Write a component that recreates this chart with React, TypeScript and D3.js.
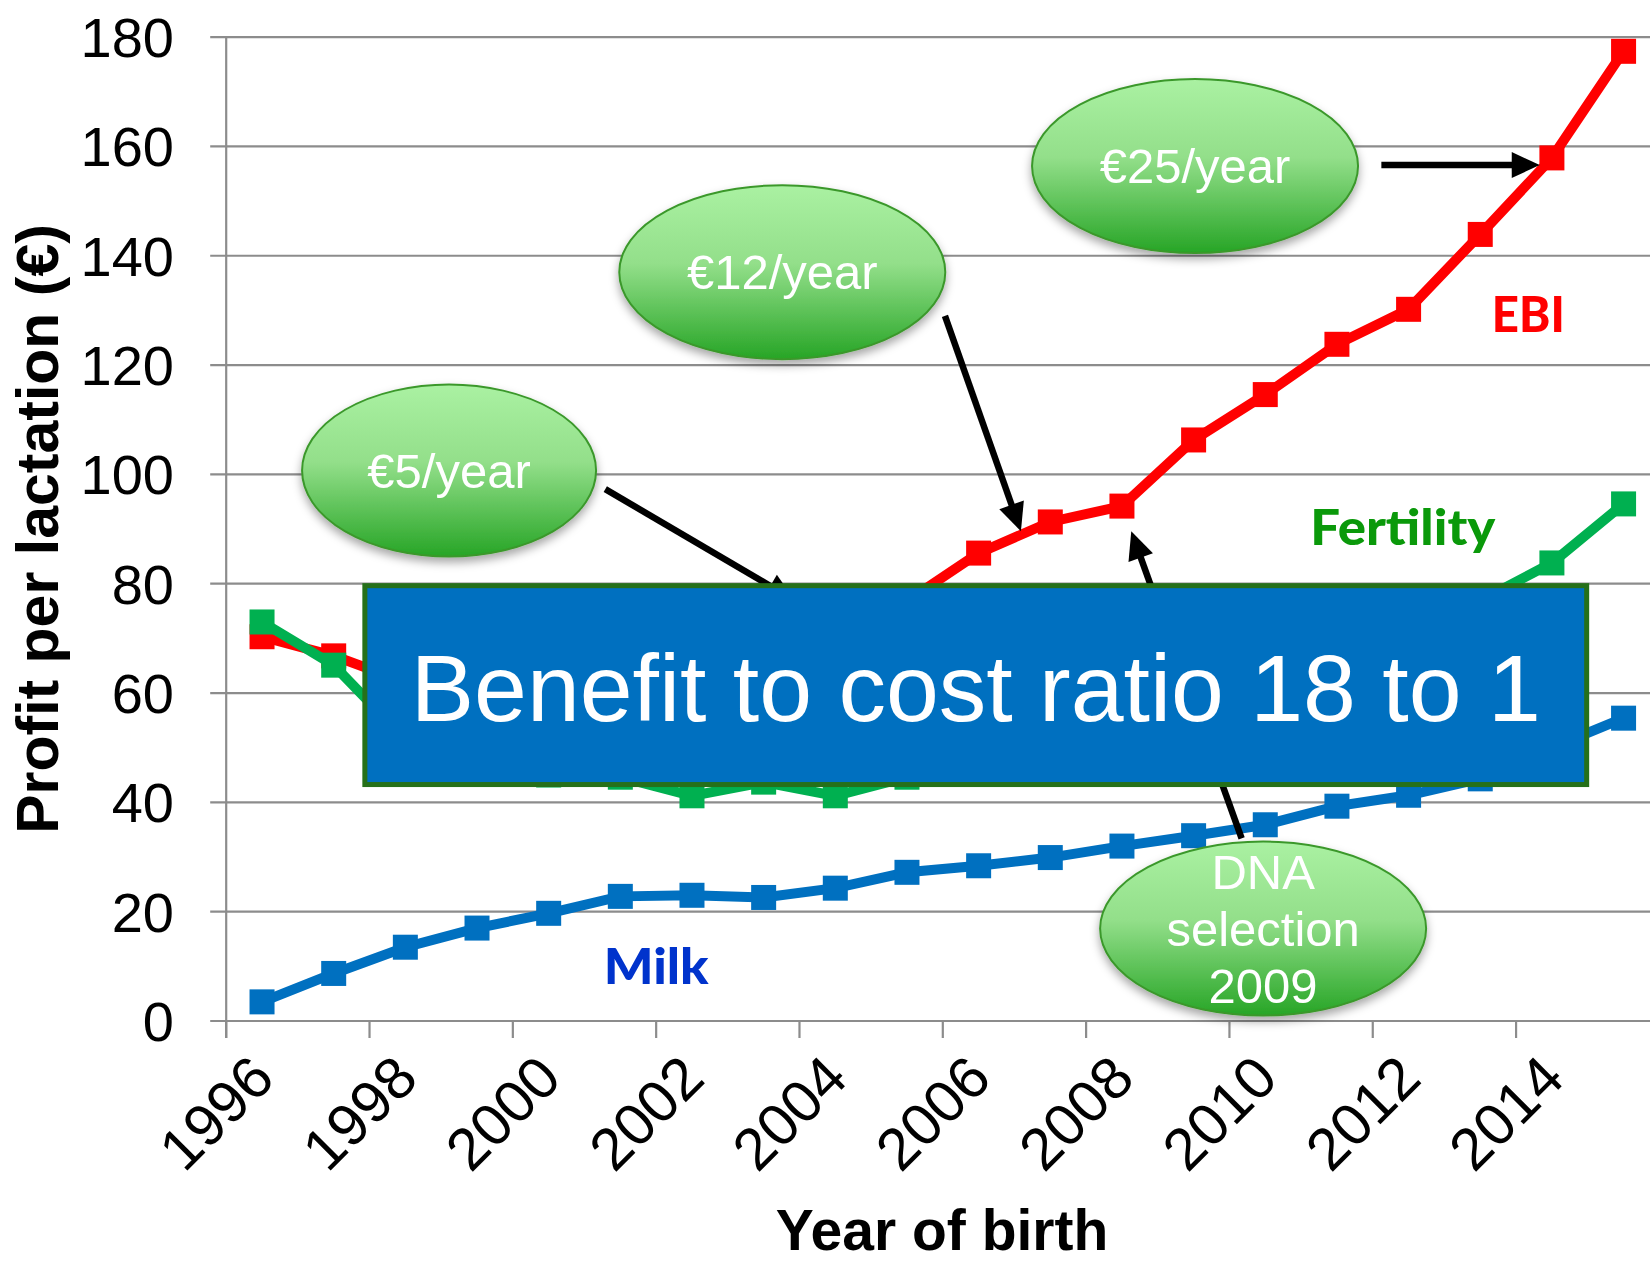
import React from 'react';
import * as d3 from 'd3';

// ---------- data ----------
const years = [1996, 1997, 1998, 1999, 2000, 2001, 2002, 2003, 2004, 2005, 2006, 2007, 2008, 2009, 2010, 2011, 2012, 2013, 2014, 2015];
const ebiValues = [70.3, 66.8, 62.0, 60.5, 61.0, 63.0, 66.0, 69.5, 73.0, 76.8, 85.6, 91.3, 94.2, 106.3, 114.6, 123.8, 130.2, 143.9, 157.9, 177.4];
const fertilityValues = [73.0, 65.1, 51.5, 47.0, 45.0, 44.6, 41.2, 43.7, 41.2, 44.6, 48.0, 52.0, 57.0, 62.0, 66.0, 70.0, 73.5, 76.9, 83.8, 94.6];
const milkValues = [3.5, 8.7, 13.5, 17.0, 19.7, 22.8, 23.0, 22.6, 24.3, 27.2, 28.4, 29.9, 32.0, 33.9, 35.9, 39.3, 41.3, 44.3, 50.0, 55.4];
const yTickValues = [0, 20, 40, 60, 80, 100, 120, 140, 160, 180];
const xTickYears = [1996, 1998, 2000, 2002, 2004, 2006, 2008, 2010, 2012, 2014];

const seriesNames = ['EBI', 'Fertility', 'Milk'];
const yAxisTitle = 'Profit per lactation (€)';
const xAxisTitle = 'Year of birth';
const boxText = 'Benefit to cost ratio 18 to 1';

// annotations (in data units: fractional category position, value)
const bubbleTexts = [['€5/year'], ['€12/year'], ['€25/year'], ['DNA', 'selection', '2009']];
const bubbleCenters = [[1999.11, 100.7], [2003.76, 137.0], [2009.52, 156.4], [2010.47, 16.9]];
const arrowStarts = [[2001.29, 97.3], [2006.03, 129.0], [2012.12, 156.6], [2010.17, 33.4]];
const arrowEnds = [[2003.93, 77.0], [2007.09, 89.6], [2014.33, 156.6], [2008.63, 89.6]];
const seriesLabelPos = [[2014.17, 126.1], [2012.42, 87.1], [2002.0, 6.8]];
const boxCorners = [[1997.9, 80.1], [2015.02, 42.8]];

// ---------- layout ----------
const W = 1650;
const H = 1262;
const FONT = "'Liberation Sans', Arial, sans-serif";
const LABEL_FONT = "Lato, 'Open Sans', sans-serif";

const x = d3.scaleLinear().domain([1996, 2016]).range([226.2, 1659.4]);
const y = d3.scaleLinear().domain([0, 180]).range([1021, 37.1]);

const seriesColors = ['#ff0000', '#00b050', '#0070c0'];
const labelColors = ['#ff0000', '#0a990a', '#0033cc'];
const labelWidths = [73, 185, 105];
const seriesData = [ebiValues, fertilityValues, milkValues];

const lineGen = d3
  .line<number>()
  .x((_, i) => x(years[i] + 0.5))
  .y((d) => y(d));

function Arrow({ s, e }: { s: number[]; e: number[] }) {
  const x1 = x(s[0]);
  const y1 = y(s[1]);
  const x2 = x(e[0]);
  const y2 = y(e[1]);
  const dx = x2 - x1;
  const dy = y2 - y1;
  const len = Math.sqrt(dx * dx + dy * dy);
  const ux = dx / len;
  const uy = dy / len;
  const headL = 28;
  const headW = 13;
  const bx = x2 - ux * headL;
  const by = y2 - uy * headL;
  const pts = [
    [x2, y2],
    [bx - uy * headW, by + ux * headW],
    [bx + uy * headW, by - ux * headW],
  ];
  return (
    <g>
      <line x1={x1} y1={y1} x2={bx + ux * 2} y2={by + uy * 2} stroke="#000" strokeWidth={6.5} />
      <polygon points={pts.map((p) => p.join(',')).join(' ')} fill="#000" />
    </g>
  );
}

export default function App() {
  const axisY = y(0);
  const boxX = x(boxCorners[0][0]);
  const boxY = y(boxCorners[0][1]);
  const boxW = x(boxCorners[1][0]) - boxX;
  const boxH = y(boxCorners[1][1]) - boxY;

  return (
    <svg
      width={W}
      height={H}
      viewBox={`0 0 ${W} ${H}`}
      style={{ position: 'absolute', left: 0, top: 0, background: '#fff', display: 'block' }}
    >
      <defs>
        <linearGradient id="bubbleGrad" x1="0" y1="0" x2="0" y2="1">
          <stop offset="0%" stopColor="#aaf1a2" />
          <stop offset="45%" stopColor="#93df8a" />
          <stop offset="100%" stopColor="#27a526" />
        </linearGradient>
        <filter id="shadow" x="-20%" y="-20%" width="140%" height="150%">
          <feDropShadow dx="0" dy="5" stdDeviation="5" floodColor="#000" floodOpacity="0.35" />
        </filter>
      </defs>
      <rect x={0} y={0} width={W} height={H} fill="#fff" />

      {/* gridlines */}
      {yTickValues.map((v) => (
        <line key={'g' + v} x1={x(1996) - 16} x2={W} y1={y(v)} y2={y(v)} stroke="#8c8c8c" strokeWidth={2.2} />
      ))}
      {/* y axis */}
      <line x1={x(1996)} x2={x(1996)} y1={y(180)} y2={axisY + 17} stroke="#8c8c8c" strokeWidth={2.2} />
      {/* x ticks */}
      {xTickYears.map((yr) => (
        <line key={'t' + yr} x1={x(yr)} x2={x(yr)} y1={axisY} y2={axisY + 17} stroke="#8c8c8c" strokeWidth={2.2} />
      ))}
      {/* y tick labels */}
      {yTickValues.map((v) => (
        <text key={'yl' + v} x={174} y={y(v) + 20} textAnchor="end" fontFamily={FONT} fontSize={56} fill="#000">
          {v}
        </text>
      ))}
      {/* x tick labels */}
      {xTickYears.map((yr) => {
        const px = x(yr + 0.5) + 15;
        const py = axisY + 60;
        return (
          <text
            key={'xl' + yr}
            x={px}
            y={py}
            textAnchor="end"
            transform={`rotate(-45 ${px} ${py})`}
            fontFamily={FONT}
            fontSize={59}
            fill="#000"
          >
            {yr}
          </text>
        );
      })}
      {/* axis titles */}
      <text
        x={58}
        y={529}
        transform="rotate(-90 58 529)"
        textAnchor="middle"
        fontFamily={FONT}
        fontWeight="bold"
        fontSize={59}
        fill="#000"
      >
        {yAxisTitle}
      </text>
      <text x={942} y={1250} textAnchor="middle" fontFamily={FONT} fontWeight="bold" fontSize={57} fill="#000">
        {xAxisTitle}
      </text>

      {/* series */}
      {seriesData.map((vals, si) => (
        <g key={'s' + si}>
          <path d={lineGen(vals) || ''} fill="none" stroke={seriesColors[si]} strokeWidth={10} strokeLinejoin="miter" />
          {vals.map((v, i) => (
            <rect key={i} x={x(years[i] + 0.5) - 12.5} y={y(v) - 12.5} width={25} height={25} fill={seriesColors[si]} />
          ))}
        </g>
      ))}

      {/* series labels */}
      {seriesNames.map((n, i) => (
        <text
          key={'sl' + n}
          x={x(seriesLabelPos[i][0])}
          y={y(seriesLabelPos[i][1])}
          textAnchor="middle"
          fontFamily={LABEL_FONT}
          fontWeight="900"
          fontSize={50}
          fill={labelColors[i]}
          textLength={labelWidths[i]}
          lengthAdjust="spacingAndGlyphs"
        >
          {n}
        </text>
      ))}

      {/* bubbles */}
      {bubbleTexts.map((lines, i) => {
        const cx = x(bubbleCenters[i][0]);
        const cy = y(bubbleCenters[i][1]);
        const rx = i === 0 ? 147 : 163;
        const ry = i === 0 ? 86 : 87;
        const lh = 57;
        const first = cy + 17 - ((lines.length - 1) * lh) / 2;
        return (
          <g key={'b' + i}>
            <ellipse cx={cx} cy={cy} rx={rx} ry={ry} fill="url(#bubbleGrad)" stroke="#3b982c" strokeWidth={2} filter="url(#shadow)" />
            {lines.map((t, j) => (
              <text key={j} x={cx} y={first + j * lh} textAnchor="middle" fontFamily={FONT} fontSize={49} fill="#fff">
                {t}
              </text>
            ))}
          </g>
        );
      })}

      {/* arrows */}
      {arrowStarts.map((s, i) => (
        <Arrow key={'a' + i} s={s} e={arrowEnds[i]} />
      ))}

      {/* box */}
      <rect x={boxX + 2.5} y={boxY + 2.5} width={boxW - 5} height={boxH - 5} fill="#0070c0" stroke="#26701a" strokeWidth={5} />
      <text
        x={boxX + boxW / 2}
        y={boxY + boxH / 2 + 36}
        textAnchor="middle"
        fontFamily={FONT}
        fontSize={95}
        fill="#fff"
      >
        {boxText}
      </text>
    </svg>
  );
}
